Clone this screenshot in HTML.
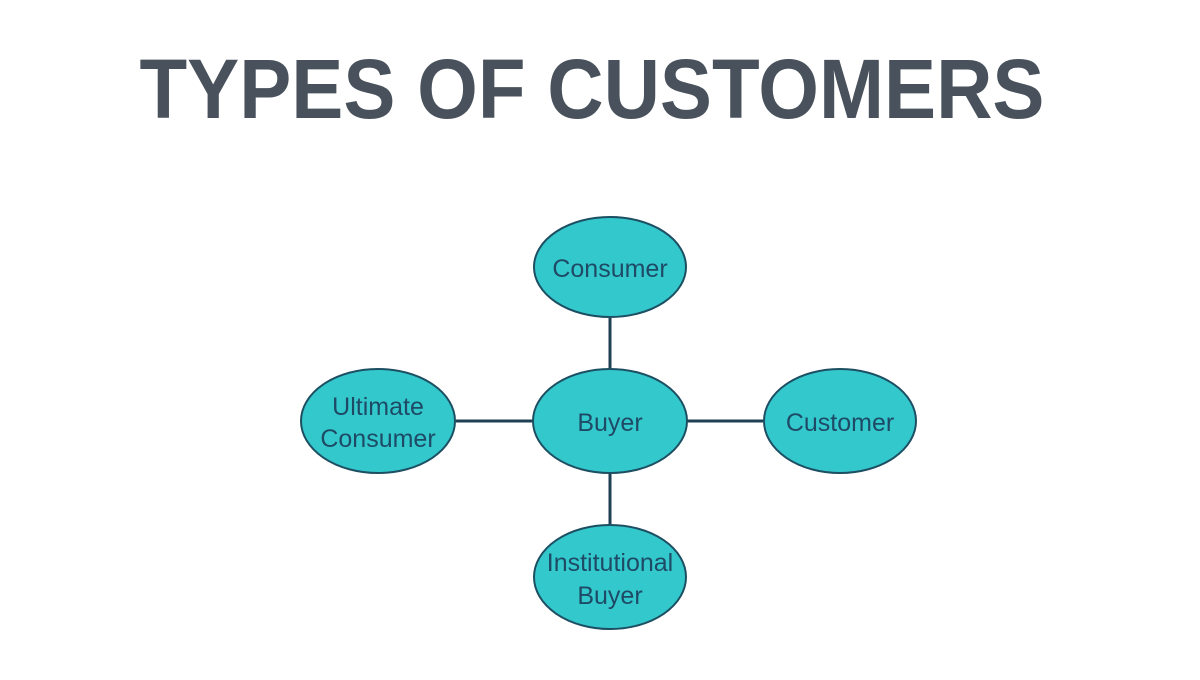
<!DOCTYPE html>
<html><head><meta charset="utf-8"><style>
html,body{margin:0;padding:0;background:#fff;}
</style></head><body>
<svg width="1200" height="675" viewBox="0 0 1200 675" xmlns="http://www.w3.org/2000/svg">
<rect width="1200" height="675" fill="#fff"/>
<text x="592" y="118" text-anchor="middle" font-family="Liberation Sans, sans-serif" font-weight="bold" font-size="84" fill="#49525c" textLength="905" lengthAdjust="spacingAndGlyphs">TYPES OF CUSTOMERS</text>
<g stroke="#1f3f55" stroke-width="3">
<line x1="610" y1="318" x2="610" y2="370"/>
<line x1="610" y1="473" x2="610" y2="525"/>
<line x1="456" y1="421" x2="533" y2="421"/>
<line x1="687" y1="421" x2="763" y2="421"/>
</g>
<g fill="#33c9cc" stroke="#1d4f63" stroke-width="2">
<ellipse cx="610" cy="267" rx="76" ry="50"/>
<ellipse cx="610" cy="421" rx="77" ry="52"/>
<ellipse cx="378" cy="421" rx="77" ry="52"/>
<ellipse cx="840" cy="421" rx="76" ry="52"/>
<ellipse cx="610" cy="577" rx="76" ry="52"/>
</g>
<g font-family="Liberation Sans, sans-serif" font-size="25" fill="#1e4a66" text-anchor="middle">
<text x="610" y="277">Consumer</text>
<text x="610" y="431">Buyer</text>
<text x="840" y="431">Customer</text>
<text x="378" y="415">Ultimate</text>
<text x="378" y="447">Consumer</text>
<text x="610" y="571">Institutional</text>
<text x="610" y="604">Buyer</text>
</g>
</svg>
</body></html>
